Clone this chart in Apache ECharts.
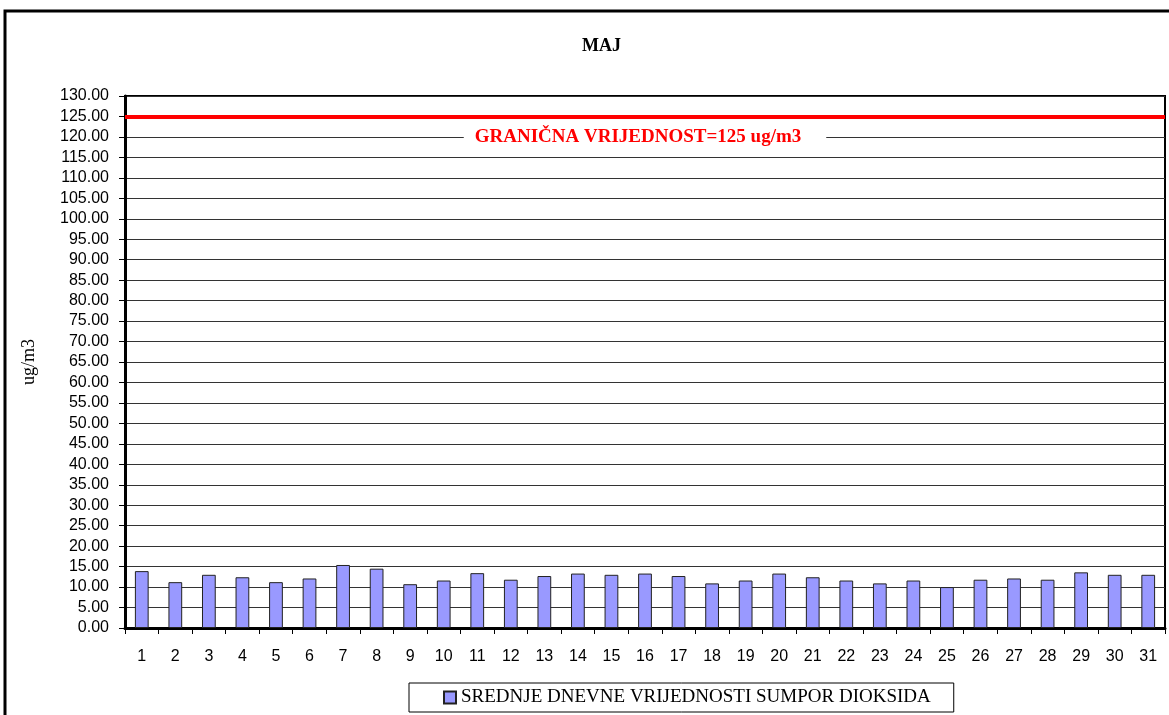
<!DOCTYPE html>
<html><head><meta charset="utf-8">
<style>html,body{margin:0;padding:0;background:#fff}#c{width:1169px;height:715px}</style>
<script src="https://cdn.jsdelivr.net/npm/echarts@6/dist/echarts.min.js"></script>
</head><body><div id="c"></div>
<script>
const days = ['1','2','3','4','5','6','7','8','9','10','11','12','13','14','15','16','17','18','19','20','21','22','23','24','25','26','27','28','29','30','31'];
const so2 = [13.9,11.2,13.0,12.4,11.2,12.1,15.4,14.5,10.7,11.6,13.4,11.8,12.7,13.3,13.0,13.3,12.7,10.9,11.6,13.3,12.4,11.6,10.9,11.6,10.0,11.8,12.1,11.8,13.6,13.0,13.0];
const limitValue = 125;
const labelLineValue = 120;
const limitLabel = 'GRANIČNA VRIJEDNOST=125 ug/m3';
const titleText = 'MAJ';
const seriesName = 'SREDNJE DNEVNE VRIJEDNOSTI SUMPOR DIOKSIDA';
const yName = 'ug/m3';

const chart = echarts.init(document.getElementById('c'), null, {renderer:'canvas'});
chart.setOption({
  animation:false,
  backgroundColor:'#fff',
  graphic:[{type:'rect',shape:{x:5,y:11,width:1180,height:720},style:{fill:'none',stroke:'#000',lineWidth:3},z:0}],
  title:{text:titleText,left:577,top:32,textStyle:{fontFamily:'Liberation Serif',fontSize:18,fontWeight:'bold',color:'#000'}},
  legend:{bottom:3,left:409,itemWidth:12,itemHeight:12,itemGap:4,borderColor:'#000',borderWidth:1,borderRadius:0,padding:[5,23,5,34],
    textStyle:{fontFamily:'Liberation Serif',fontSize:19,color:'#000',padding:[0,0,0,0]},data:[{name:seriesName,icon:'rect'}]},
  grid:{left:125,right:4,top:96,bottom:87,show:true,borderColor:'#000',borderWidth:2,backgroundColor:'#fff'},
  xAxis:{type:'category',data:days,
    axisLine:{lineStyle:{color:'#000',width:3}},
    axisTick:{show:true,length:6,lineStyle:{color:'#000',width:1}},
    axisLabel:{fontFamily:'Liberation Sans',fontSize:16,color:'#000',margin:21}},
  yAxis:{type:'value',min:0,max:130,interval:5,name:yName,nameLocation:'middle',nameGap:87,nameRotate:90,
    nameTextStyle:{fontFamily:'Liberation Serif',fontSize:18,color:'#000'},
    axisLine:{show:true,lineStyle:{color:'#000',width:3}},
    axisTick:{show:true,length:6,lineStyle:{color:'#000'}},
    axisLabel:{fontFamily:'Liberation Sans',fontSize:16,color:'#000',margin:16,formatter:v=>v.toFixed(2)},
    splitLine:{show:true,lineStyle:{color:'#333',width:1}}},
  series:[{name:seriesName,type:'bar',data:so2,barWidth:'41%',
    itemStyle:{color:'#9999ff',borderColor:'#222',borderWidth:1},
    markLine:{silent:true,symbol:'none',animation:false,
      data:[
        {yAxis:limitValue,lineStyle:{color:'#ff0000',width:4,type:'solid'},label:{show:false}},
        {yAxis:labelLineValue,lineStyle:{color:'rgba(0,0,0,0)',width:0},
          label:{show:true,position:'middle',formatter:limitLabel,color:'#ff0000',fontFamily:'Liberation Serif',fontWeight:'bold',fontSize:19,
            backgroundColor:'#fff',padding:[2,25,2,11],distance:0,verticalAlign:'middle'}}
      ]}}]
});
</script></body></html>
